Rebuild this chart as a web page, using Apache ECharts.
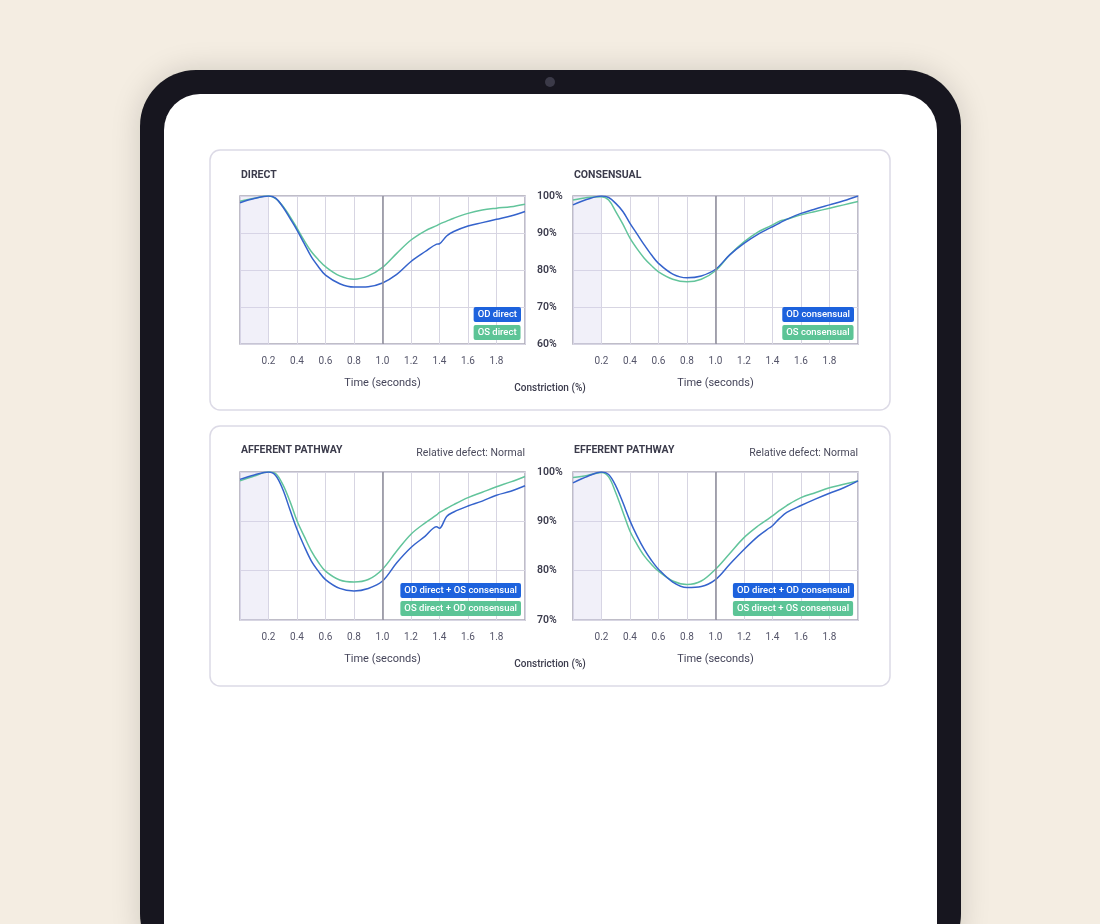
<!DOCTYPE html>
<html><head><meta charset="utf-8">
<script src="https://cdn.jsdelivr.net/npm/echarts@6/dist/echarts.min.js"></script>
<style>html,body{margin:0;padding:0;background:#f4ede2;}#c{width:1100px;height:924px;}</style>
</head><body><div id="c"></div>
<script>
// ---- data ----
const time = [0, 0.1, 0.2, 0.25, 0.3, 0.35, 0.4, 0.45, 0.5, 0.55, 0.6, 0.7, 0.8, 0.9, 1.0, 1.1, 1.2, 1.3, 1.38, 1.4, 1.45, 1.5, 1.6, 1.7, 1.8, 1.9, 2.0];
const odDirect = [98.2, 99.3, 100, 99.4, 97.1, 94, 90.8, 87.2, 83.6, 80.9, 78.6, 76.3, 75.4, 75.5, 76.5, 78.8, 82.3, 85, 87.0, 87.1, 89.2, 90.4, 91.9, 92.8, 93.7, 94.6, 95.8];
const osDirect = [98.6, 99.4, 100, 99.3, 97.3, 94.5, 91.3, 88, 85, 82.8, 80.9, 78.4, 77.5, 78.4, 80.7, 84.5, 88.1, 90.6, 92.0, 92.4, 93.2, 94, 95.3, 96.2, 96.7, 97.1, 97.8];
const odConsensual = [97.6, 99.1, 100, 99.6, 98, 95.8, 92.6, 89.7, 86.8, 84.1, 81.8, 78.9, 77.9, 78.4, 80.2, 84.1, 87.2, 89.7, 91.3, 91.7, 92.7, 93.7, 95.3, 96.5, 97.6, 98.7, 100];
const osConsensual = [98.9, 99.6, 99.8, 98.9, 95.8, 92.4, 88.6, 85.7, 83.2, 81.2, 79.5, 77.5, 76.8, 77.5, 79.8, 84.1, 87.6, 90.3, 91.8, 92.2, 93.2, 93.7, 94.9, 95.8, 96.7, 97.6, 98.5];
const odDirectOsCons = [98.5, 99.4, 100, 99.3, 96.5, 92.4, 88.4, 85, 82, 79.9, 78.2, 76.4, 75.9, 76.4, 77.9, 81.6, 84.7, 87, 88.9, 88.6, 91.0, 91.9, 93.1, 94.1, 95.3, 96.1, 97.2];
const osDirectOdCons = [98.2, 99.2, 100, 99.7, 97.5, 94.1, 90.1, 87, 84, 81.7, 79.9, 78.1, 77.7, 78.2, 80.3, 84, 87.4, 89.7, 91.3, 91.8, 92.6, 93.4, 94.8, 95.9, 97, 98, 99.1];
const odDirectOdCons = [97.8, 99.1, 100, 99.5, 97.2, 93.8, 90.1, 87, 84.3, 82.1, 80.3, 77.7, 76.6, 76.8, 78.2, 81.3, 84.3, 87, 88.7, 89.1, 90.6, 91.8, 93.2, 94.5, 95.7, 96.8, 98.2];
const osDirectOsCons = [98.9, 99.3, 99.9, 99.0, 95.8, 91.9, 88, 85.3, 83, 81.3, 79.9, 77.9, 77.2, 77.9, 80.3, 83.5, 86.7, 89.1, 90.7, 91.1, 92.2, 93.2, 94.8, 95.8, 96.8, 97.5, 98.2];
const panelTitles = ['DIRECT', 'CONSENSUAL', 'AFFERENT PATHWAY', 'EFFERENT PATHWAY'];
const seriesNames = [['OD direct', 'OS direct'], ['OD consensual', 'OS consensual'], ['OD direct + OS consensual', 'OS direct + OD consensual'], ['OD direct + OD consensual', 'OS direct + OS consensual']];
const seriesValues = [[odDirect, osDirect], [odConsensual, osConsensual], [odDirectOsCons, osDirectOdCons], [odDirectOdCons, osDirectOsCons]];
const yRanges = [[60, 100], [60, 100], [70, 100], [70, 100]];
const defectLabel = 'Relative defect: Normal';
const yAxisTitle = 'Constriction (%)';
const xAxisTitle = 'Time (seconds)';

// ---- layout ----
const FONT = 'Roboto, "Noto Sans", sans-serif';
const BLUE_LINE = '#3563cc', GREEN_LINE = '#62c49b';
const BLUE_BOX = '#1d62dd', GREEN_BOX = '#5cc496';
const grids = [
  {left: 240, top: 196, width: 285, height: 148},
  {left: 573, top: 196, width: 285, height: 148},
  {left: 240, top: 472, width: 285, height: 148},
  {left: 573, top: 472, width: 285, height: 148}
];
const chart = echarts.init(document.getElementById('c'), null, {renderer: 'canvas'});

const xAxes = [], yAxes = [], series = [], legends = [];
grids.forEach((g, i) => {
  g.show = true; g.borderColor = '#aaa8b6'; g.borderWidth = 1.5; g.backgroundColor = 'transparent';
  xAxes.push({
    type: 'value', gridIndex: i, min: 0, max: 2, interval: 0.2,
    name: xAxisTitle, nameLocation: 'middle', nameGap: 34,
    nameTextStyle: {color: '#45455a', fontSize: 11, fontFamily: FONT},
    axisLine: {show: false}, axisTick: {show: false},
    axisLabel: {margin: 12, color: '#55556a', fontSize: 10, fontFamily: FONT,
      formatter: v => (v <= 0.001 || v >= 1.999) ? '' : v.toFixed(1)},
    splitLine: {show: true, lineStyle: {color: '#d7d5e2', width: 1}}
  });
  const showY = (i % 2 === 1);
  yAxes.push({
    type: 'value', gridIndex: i, min: yRanges[i][0], max: yRanges[i][1], interval: 10,
    axisLine: {show: false}, axisTick: {show: false},
    axisLabel: {show: showY, margin: 36, align: 'left', color: '#3b3b4c', fontSize: 10.5, fontWeight: 600, fontFamily: FONT,
      formatter: v => v + '%'},
    splitLine: {show: true, lineStyle: {color: '#d7d5e2', width: 1}}
  });
  const colors = [BLUE_LINE, GREEN_LINE];
  seriesNames[i].forEach((nm, k) => {
    const s = {
      name: nm, type: 'line', xAxisIndex: i, yAxisIndex: i,
      data: time.map((t, j) => [t, seriesValues[i][k][j]]),
      smooth: 0.35, showSymbol: false, symbol: 'none',
      lineStyle: {color: colors[k], width: 1.5}, itemStyle: {color: colors[k]},
      z: k === 0 ? 4 : 3, silent: true
    };
    if (k === 0) {
      s.markArea = {silent: true, itemStyle: {color: 'rgba(214,212,238,0.35)'}, data: [[{xAxis: 0}, {xAxis: 0.2}]]};
      s.markLine = {silent: true, symbol: 'none', label: {show: false},
        lineStyle: {color: '#8d8b99', width: 1.5, type: 'solid'}, data: [{xAxis: 1}]};
    }
    series.push(s);
  });
  legends.push({
    orient: 'vertical', right: 1100 - (g.left + g.width - 4), top: g.top + g.height - 37,
    padding: 0, itemGap: 3, itemWidth: 0, itemHeight: 0, selectedMode: false,
    icon: 'rect', itemStyle: {opacity: 0},
    data: seriesNames[i].map((nm, k) => ({
      name: nm,
      textStyle: {color: '#ffffff', fontSize: 9.5, fontWeight: 500, fontFamily: FONT,
        backgroundColor: k === 0 ? BLUE_BOX : GREEN_BOX, padding: [3, 4, 2, 4], borderRadius: 2, lineHeight: 10}
    }))
  });
});

const graphic = [
  // device frame
  {type: 'rect', z: -10, shape: {x: 140, y: 70, width: 821, height: 900, r: 56},
   style: {fill: '#17161f', shadowBlur: 30, shadowColor: 'rgba(0,0,0,0.15)'}},
  {type: 'rect', z: -9, shape: {x: 164, y: 94, width: 773, height: 880, r: 36}, style: {fill: '#ffffff'}},
  {type: 'circle', z: -9, shape: {cx: 550, cy: 82, r: 5}, style: {fill: '#3b3a48'}},
  // cards
  {type: 'rect', z: -8, shape: {x: 210, y: 150, width: 680, height: 260, r: 10}, style: {fill: '#fff', stroke: '#dcdae6', lineWidth: 1.5}},
  {type: 'rect', z: -8, shape: {x: 210, y: 426, width: 680, height: 260, r: 10}, style: {fill: '#fff', stroke: '#dcdae6', lineWidth: 1.5}}
];
const titlePos = [[241, 175], [574, 175], [241, 450], [574, 450]];
panelTitles.forEach((t, i) => graphic.push({type: 'text', z: 5, x: titlePos[i][0], y: titlePos[i][1],
  style: {text: t, fill: '#3b3b4b', font: 'bold 10.5px ' + FONT, verticalAlign: 'middle'}}));
[[525, 453], [858, 453]].forEach(p => graphic.push({type: 'text', z: 5, x: p[0], y: p[1],
  style: {text: defectLabel, fill: '#4a4a5c', font: '10.5px ' + FONT, align: 'right', verticalAlign: 'middle'}}));
[[550, 388], [550, 664]].forEach(p => graphic.push({type: 'text', z: 5, x: p[0], y: p[1],
  style: {text: yAxisTitle, fill: '#3b3b4c', font: '500 10px ' + FONT, align: 'center', verticalAlign: 'middle'}}));

chart.setOption({
  backgroundColor: '#f4ede2',
  animation: false,
  grid: grids, xAxis: xAxes, yAxis: yAxes, series: series, legend: legends, graphic: graphic
});
</script></body></html>
